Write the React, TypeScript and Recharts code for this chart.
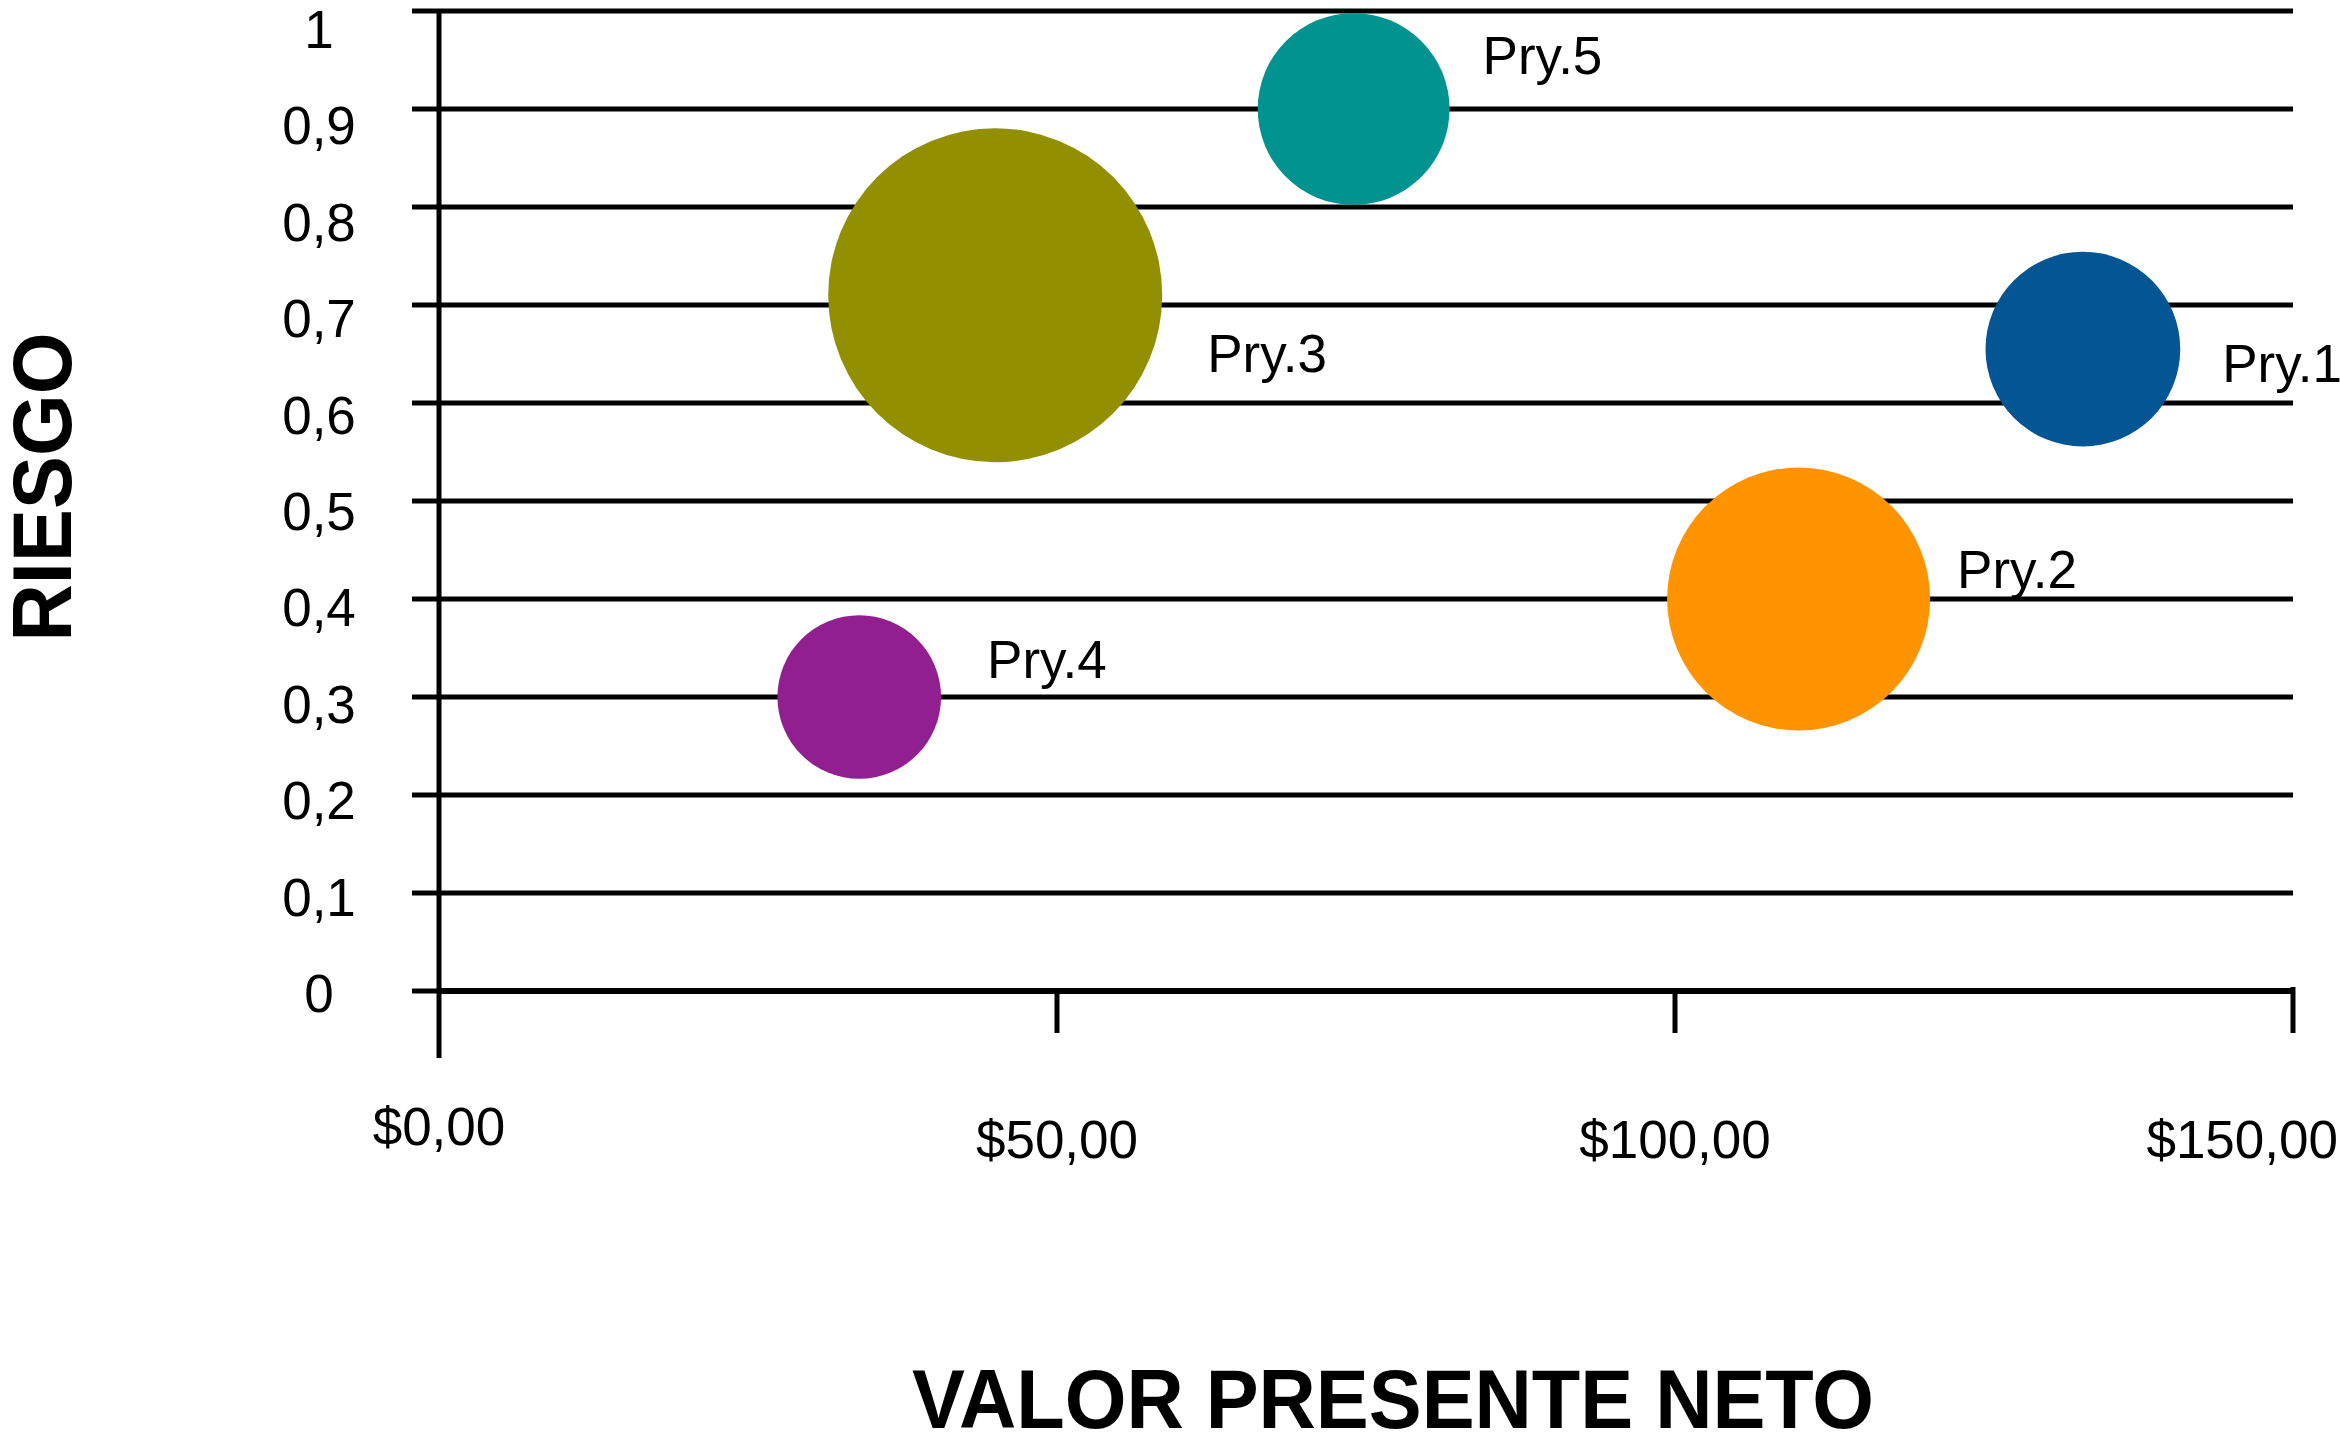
import { ScatterChart, Scatter, XAxis, YAxis, ZAxis, CartesianGrid, Label } from "recharts"

// proyectos: VPN vs riesgo, tamaño = inversión relativa
const projects = ["Pry.1", "Pry.2", "Pry.3", "Pry.4", "Pry.5"]
const npv = [133, 110, 45, 34, 74]
const risk = [0.655, 0.4, 0.71, 0.3, 0.9]
const investment = [34, 62, 100, 24, 33]

const xTicks = [0, 50, 100, 150]
const yTicks = [0, 0.1, 0.2, 0.3, 0.4, 0.5, 0.6, 0.7, 0.8, 0.9, 1]

const colours = ["#045594", "#FF9300", "#929000", "#911F8F", "#00938F"]
// where each "Pry.n" label sits relative to the right edge of its bubble
const labelNudge = [
  { dx: 42, dy: 33 },
  { dx: 27, dy: -11 },
  { dx: 45, dy: 77 },
  { dx: 46, dy: -19 },
  { dx: 33, dy: -35 },
]

const FONT = "'Liberation Sans', Arial, Helvetica, sans-serif"
const MAX_R = 167

const data = projects.map((name, i) => ({
  name,
  npv: npv[i],
  risk: risk[i],
  investment: investment[i],
}))

const Bubble = (props: any) => {
  const { cx, cy, size, width, payload } = props
  const i = projects.indexOf(payload?.name)
  const r = size != null ? Math.sqrt(size / Math.PI) : width / 2
  const nudge = labelNudge[i] ?? { dx: 30, dy: 0 }
  return (
    <g>
      <circle cx={cx} cy={cy} r={r} fill={colours[i]} />
      <text x={cx + r + nudge.dx} y={cy + nudge.dy} fontSize={53} fontFamily={FONT} fill="#000">
        {payload?.name}
      </text>
    </g>
  )
}

const XTick = (props: any) => {
  const { x, y, payload } = props
  const v = payload.value
  const first = v === xTicks[0]
  const last = v === xTicks[xTicks.length - 1]
  return (
    <g>
      <line x1={x} x2={x} y1={last ? y - 4 : y} y2={y + (first ? 67 : 42)} stroke="#000" strokeWidth={5} />
      <text
        x={last ? x + 45 : x}
        y={y + (first ? 154 : 167)}
        textAnchor={last ? "end" : "middle"}
        fontSize={53}
        fontFamily={FONT}
        fill="#000"
      >
        {`$${v},00`}
      </text>
    </g>
  )
}

const YTick = (props: any) => {
  const { x, y, payload } = props
  const v = payload.value
  return (
    <text x={x - 93} y={y + 21 + 16 * v} textAnchor="middle" fontSize={53} fontFamily={FONT} fill="#000">
      {String(v).replace(".", ",")}
    </text>
  )
}

const RiesgoTitle = (props: any) => {
  const vb = props.viewBox
  const cx = vb.x + 71
  const cy = vb.y + vb.height / 2 - 14
  return (
    <text
      x={cx}
      y={cy}
      transform={`rotate(-90, ${cx}, ${cy})`}
      textAnchor="middle"
      fontSize={84}
      fontWeight="bold"
      fontFamily={FONT}
      textLength={309}
      lengthAdjust="spacingAndGlyphs"
      fill="#000"
    >
      RIESGO
    </text>
  )
}

const VpnTitle = (props: any) => {
  const vb = props.viewBox
  return (
    <text
      x={vb.x + vb.width / 2 + 27}
      y={vb.y + 437}
      textAnchor="middle"
      fontSize={84}
      fontWeight="bold"
      fontFamily={FONT}
      textLength={962}
      lengthAdjust="spacingAndGlyphs"
      fill="#000"
    >
      VALOR PRESENTE NETO
    </text>
  )
}

export default function App() {
  return (
    <div style={{ position: "absolute", left: 0, top: 0, width: 2341, height: 1438, background: "#fff" }}>
      <ScatterChart width={2341} height={1438} margin={{ top: 11, right: 48, left: 0, bottom: 0 }}>
        <CartesianGrid horizontal={true} vertical={false} stroke="#000" strokeWidth={5} />
        <XAxis
          type="number"
          dataKey="npv"
          domain={[0, 150]}
          ticks={xTicks}
          interval={0}
          height={447}
          tickSize={0}
          tickMargin={0}
          tickLine={false}
          axisLine={{ stroke: "#000", strokeWidth: 6 }}
          tick={<XTick />}
        >
          <Label content={<VpnTitle />} />
        </XAxis>
        <YAxis
          type="number"
          dataKey="risk"
          domain={[0, 1]}
          ticks={yTicks}
          interval={0}
          width={439}
          tickSize={27}
          tickMargin={0}
          tickLine={{ stroke: "#000", strokeWidth: 5 }}
          axisLine={{ stroke: "#000", strokeWidth: 5 }}
          tick={<YTick />}
        >
          <Label content={<RiesgoTitle />} />
        </YAxis>
        <ZAxis type="number" dataKey="investment" domain={[0, 100]} range={[0, Math.PI * MAX_R * MAX_R]} />
        <Scatter data={data} shape={<Bubble />} isAnimationActive={false} />
      </ScatterChart>
    </div>
  )
}
